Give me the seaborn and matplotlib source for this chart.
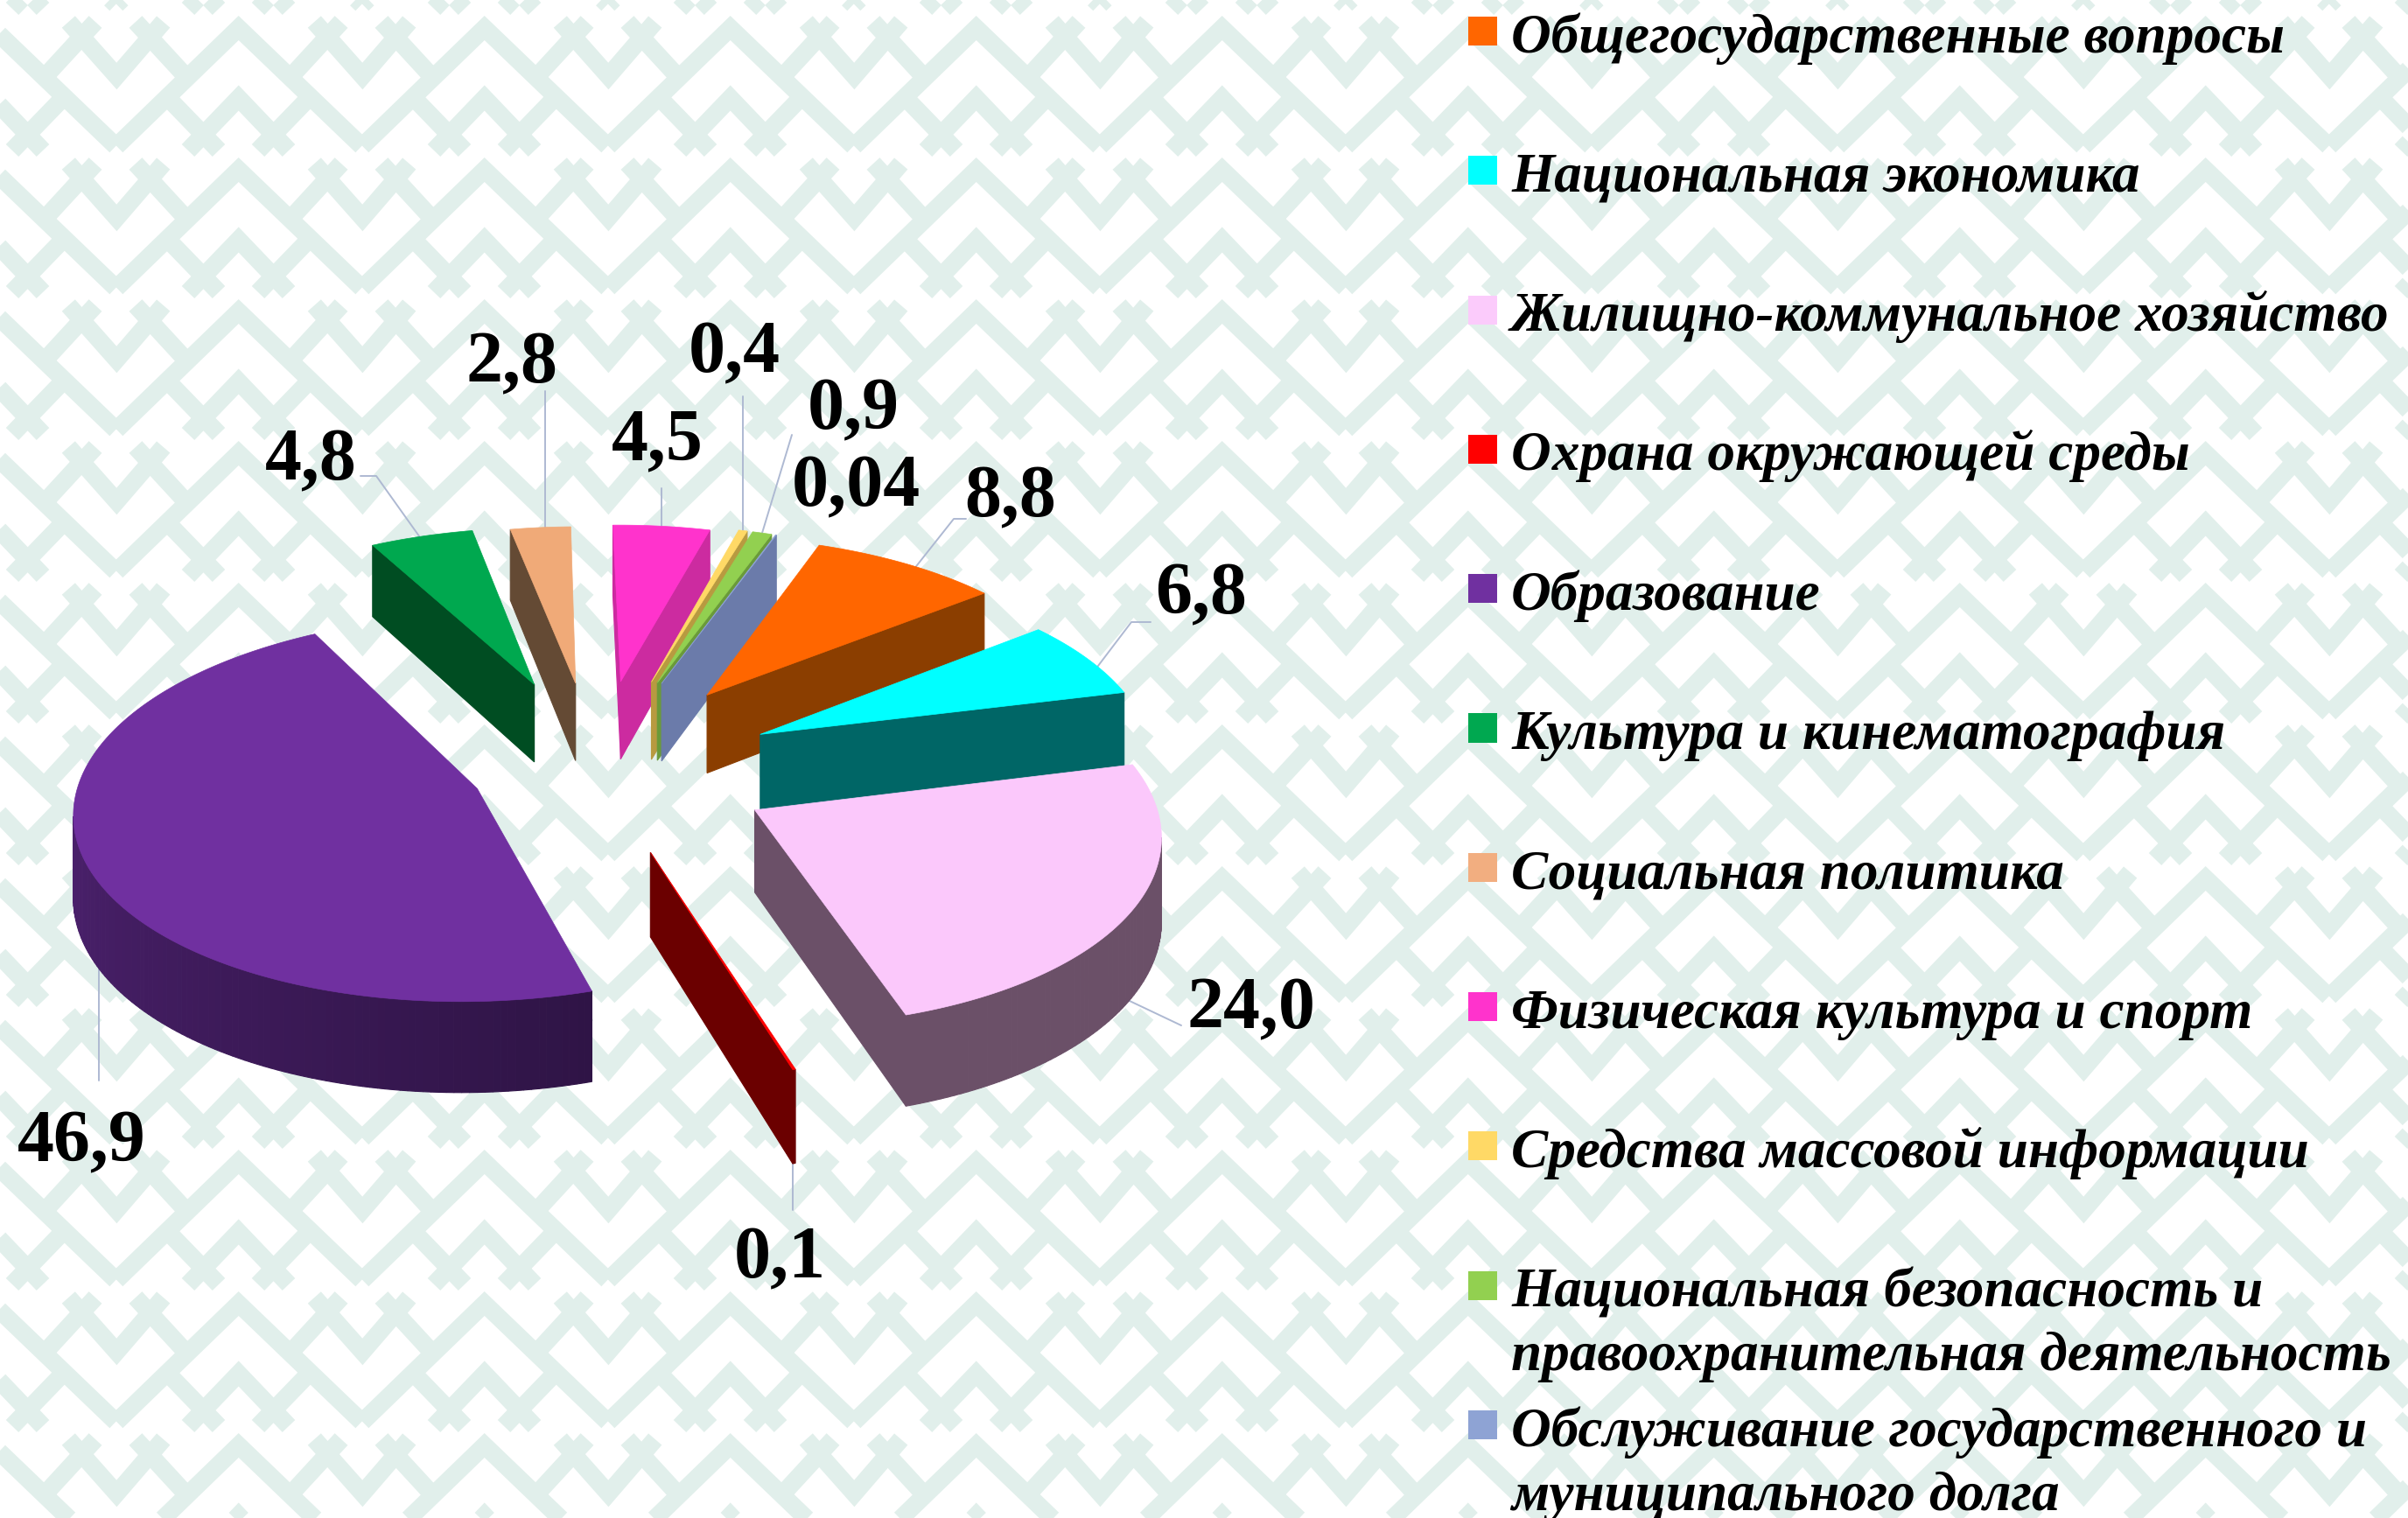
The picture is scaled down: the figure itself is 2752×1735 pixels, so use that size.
import numpy as np
import pandas as pd
import seaborn as sns
import matplotlib.pyplot as plt
from matplotlib.collections import LineCollection

# data, clockwise order of the slices
categories = ['Общегосударственные вопросы', 'Национальная экономика', 'Жилищно-коммунальное хозяйство',
              'Охрана окружающей среды', 'Образование', 'Культура и кинематография', 'Социальная политика',
              'Физическая культура и спорт', 'Средства массовой информации',
              'Национальная безопасность и\nправоохранительная деятельность',
              'Обслуживание государственного и\nмуниципального долга']
values = [8.8, 6.8, 24.0, 0.1, 46.9, 4.8, 2.8, 4.5, 0.4, 0.9, 0.04]
value_labels = ['8,8', '6,8', '24,0', '0,1', '46,9', '4,8', '2,8', '4,5', '0,4', '0,9', '0,04']

# colours
top_colors = ['#FF6600', '#00FFFF', '#FBC8FB', '#FF0000', '#7030A0', '#00A84F', '#F0AA78', '#FF33CC', '#FFD966', '#92D050', '#8EA3D4']
side_colors = ['#8B3E00', '#006666', '#6B5068', '#6B0000', '#4A2070', '#004D22', '#644A34', '#CC2BA0', '#B89A40', '#6A9A3A', '#6B7BAA']
outer_from = ['#8B3E00', '#006666', '#6B5068', '#6B0000', '#2F1446', '#004D22', '#644A34', '#CC2BA0', '#B89A40', '#6A9A3A', '#6B7BAA']
outer_to = ['#8B3E00', '#006666', '#6B5068', '#6B0000', '#5F2A88', '#004D22', '#644A34', '#CC2BA0', '#B89A40', '#6A9A3A', '#6B7BAA']
legend_colors = ['#FF6600', '#00FFFF', '#FBCBFB', '#FF0000', '#7030A0', '#00A850', '#F2AE80', '#FF33CC', '#FFD966', '#92D050', '#8EA3D4']

# layout of the 3d pie
start_angle = 20.0
explode = [0.40, 0.40, 0.45, 0.50, 0.40, 0.42, 0.40, 0.40, 0.40, 0.40, 0.40]
# extra push of a slice on the picture, in pixels
nudge = [(4, -5), (8, 10), (-20, 12), (-29, 2), (12, 2), (-30, -3), (-26, -4), (-14, -6), (-5, -8), (-5, -8), (-5, -8)]
cx, cy = 702, 866
R, V, k = 450, 212, 0.1
wall = 92

# value labels: centre of text, then where the leader goes (None = straight up/down)
label_xy = [(1155, 570), (1373, 681), (1430, 1155), (891, 1440), (93, 1307), (355, 528), (585, 417), (751, 505), (839, 405), (975, 470), (978, 558)]
leaders = [[(1090, 593), (1104, 593)], [(1293, 711), (1315, 711)], [(1350, 1172)], [(None, 1383)], [(None, 1235)],
           [(430, 544), (412, 544)], [(None, 447)], [(None, 558)], [(None, 453)], [(905, 497)], None]
leader_frac = [0.55, 0.62, 0.72, 1.0, 0.47, 0.48, 0.57, 0.5, 0.5, 0.5, 0.5]

# background ornament, one tile in pixels
tile_w, tile_h = 281, 162
tile = [[(13.3, 167), (152.7, 32), (293.3, 167)],
        [(-41.7, 25), (13.3, 87), (66.7, 25)],
        [(35, 25), (93, 88)], [(270, 25), (212, 88)],
        [(95, 172), (152.7, 112), (210, 172)],
        [(72, 112), (130, 172)], [(233, 112), (175, 172)]]

sns.set_theme(style='white')
plt.rcParams['font.family'] = ['Liberation Serif', 'DejaVu Serif']

fig = plt.figure(figsize=(27.52, 17.35), dpi=100)
ax = fig.add_axes([0, 0, 1, 1])
ax.set_xlim(0, 2752)
ax.set_ylim(1735, 0)
ax.axis('off')

segs = []
for j in range(-1, 12):
    for i in range(-1, 11):
        for stroke in tile:
            segs.append([(x + 120 + i * tile_w, y + j * tile_h) for x, y in stroke])
ax.add_collection(LineCollection(segs, colors='#E1EFEB', linewidths=14.5, capstyle='butt', joinstyle='miter', zorder=0))


def project(gx, gy, lift=0, shift=(0, 0)):
    w = 1 / (1 + k * gy)
    return cx + R * gx * w + shift[0], cy - V * gy * w + lift * w + shift[1]


def faces_camera(px, py, nx, ny):
    return (0 - px) * nx + (-1 / k - py) * ny > 0


def quad(p0, p1, color, z, shift):
    x0, y0 = project(*p0, shift=shift)
    x1, y1 = project(*p1, shift=shift)
    x2, y2 = project(*p1, wall, shift)
    x3, y3 = project(*p0, wall, shift)
    ax.fill([x0, x1, x2, x3], [y0, y1, y2, y3], color=color, lw=0.8, zorder=z)


total = sum(values)
edges = start_angle + np.cumsum([0] + values) / total * 360
mids = np.radians((edges[:-1] + edges[1:]) / 2)

# back slices first
order = np.argsort(-np.cos(mids))
for pos, idx in enumerate(order):
    a0, a1 = np.radians(edges[idx]), np.radians(edges[idx + 1])
    e = explode[idx]
    shift = nudge[idx]
    ox, oy = e * np.sin(mids[idx]), e * np.cos(mids[idx])
    z = 5 + pos
    ang = np.linspace(a0, a1, max(3, int(np.degrees(a1 - a0)) + 2))
    arc = [(ox + np.sin(a), oy + np.cos(a)) for a in ang]

    # leader goes under the slice
    if leaders[idx] is not None:
        f = leader_frac[idx]
        ax_, ay_ = project(ox + np.sin(a0 + (a1 - a0) * f), oy + np.cos(a0 + (a1 - a0) * f), shift=shift)
        xs, ys = [ax_], [ay_]
        for p in leaders[idx]:
            xs.append(ax_ if p[0] is None else p[0])
            ys.append(p[1])
        ax.plot(xs, ys, color='#AEB9D2', lw=1.4, zorder=2)

    # walls
    if faces_camera(ox, oy, -np.cos(a0), np.sin(a0)):
        quad((ox, oy), arc[0], side_colors[idx], z, shift)
    if faces_camera(ox, oy, np.cos(a1), -np.sin(a1)):
        quad((ox, oy), arc[-1], side_colors[idx], z, shift)
    shades = sns.blend_palette([outer_from[idx], outer_to[idx]], len(arc))
    for m in range(len(arc) - 1):
        am = (ang[m] + ang[m + 1]) / 2
        if faces_camera(arc[m][0], arc[m][1], np.sin(am), np.cos(am)):
            quad(arc[m], arc[m + 1], shades[m], z, shift)

    # top
    top = [project(ox, oy, shift=shift)] + [project(*p, shift=shift) for p in arc]
    ax.fill([p[0] for p in top], [p[1] for p in top], color=top_colors[idx], lw=0.5, zorder=z + 0.5)

for txt, (x, y) in zip(value_labels, label_xy):
    ax.text(x, y, txt, fontsize=60.5, fontweight='bold', color='black', ha='center', va='center', zorder=30)

# legend squares and text
legend_df = pd.DataFrame({'category': categories, 'x': 1694.5, 'y': 35.5 + 159.3 * np.arange(len(categories))})
sns.scatterplot(data=legend_df, x='x', y='y', hue='category', palette=legend_colors, marker='s', s=565,
                linewidth=0, legend=False, ax=ax, zorder=30)
ax.set_xlim(0, 2752)
ax.set_ylim(1735, 0)
ax.axis('off')
for row, name in zip(legend_df['y'], categories):
    for n, line in enumerate(name.split('\n')):
        ax.text(1727, row + 24 + n * 73, line, fontsize=45.5, fontweight='bold', fontstyle='italic',
                color='black', ha='left', va='baseline', zorder=30)

fig.savefig('out.png', dpi=100)
